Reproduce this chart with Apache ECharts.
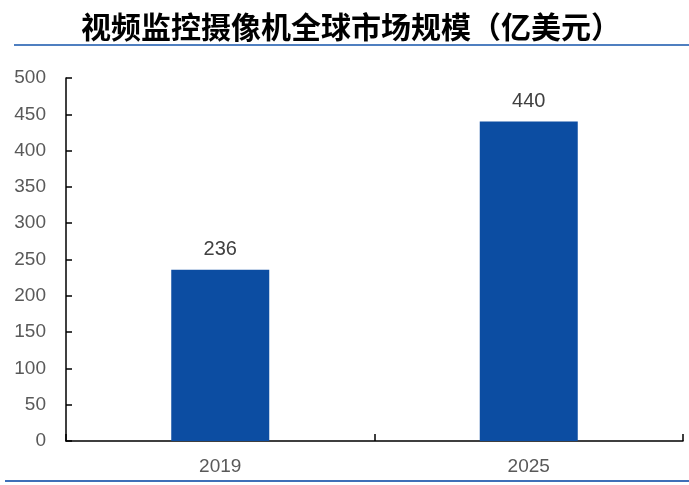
<!DOCTYPE html>
<html>
<head>
<meta charset="utf-8">
<script src="https://cdn.jsdelivr.net/npm/echarts@6/dist/echarts.min.js"></script>
<style>
  html, body { margin: 0; padding: 0; background: #fff; }
  #chart { width: 689px; height: 485px; }
</style>
</head>
<body>
<div id="chart"></div>
<script>
// 图表数据
var titleText = '视频监控摄像机全球市场规模（亿美元）';
var years = ['2019', '2025'];
var marketSize = [236, 440];
var yTicks = [0, 50, 100, 150, 200, 250, 300, 350, 400, 450, 500];

var chart = echarts.init(document.getElementById('chart'));

var option = {
  animation: false,
  title: {
    text: titleText,
    left: 76,
    top: 7,
    textStyle: {
      fontFamily: 'Noto Sans CJK SC',
      fontWeight: 'bold',
      fontSize: 30,
      color: '#000'
    }
  },
  graphic: [
    {
      type: 'line',
      shape: { x1: 14, y1: 45, x2: 689, y2: 45 },
      style: { stroke: '#4f7fc0', lineWidth: 2 }
    },
    {
      type: 'line',
      shape: { x1: 5, y1: 481, x2: 689, y2: 481 },
      style: { stroke: '#3f6fb8', lineWidth: 2 }
    }
  ],
  grid: {
    left: 66,
    right: 6,
    top: 78,
    bottom: 44
  },
  xAxis: {
    type: 'category',
    data: years,
    axisLine: { lineStyle: { color: '#000', width: 1.5 } },
    axisTick: { show: true, inside: true, length: 7, lineStyle: { color: '#000', width: 1.5 } },
    axisLabel: {
      margin: 16,
      fontFamily: 'Liberation Sans',
      fontSize: 19,
      color: '#595959'
    }
  },
  yAxis: {
    type: 'value',
    min: yTicks[0],
    max: yTicks[yTicks.length - 1],
    interval: 50,
    splitLine: { show: false },
    axisLine: { show: true, lineStyle: { color: '#000', width: 1.5 } },
    axisTick: { show: true, inside: true, length: 6, lineStyle: { color: '#000', width: 1.5 } },
    axisLabel: {
      margin: 20,
      fontFamily: 'Liberation Sans',
      fontSize: 19,
      color: '#595959'
    }
  },
  series: [{
    type: 'bar',
    data: marketSize,
    barWidth: 98,
    itemStyle: { color: '#0c4da2' },
    label: {
      show: true,
      position: 'top',
      distance: 10,
      fontFamily: 'Liberation Sans',
      fontSize: 20,
      color: '#404040'
    }
  }]
};

chart.setOption(option);
</script>
</body>
</html>
